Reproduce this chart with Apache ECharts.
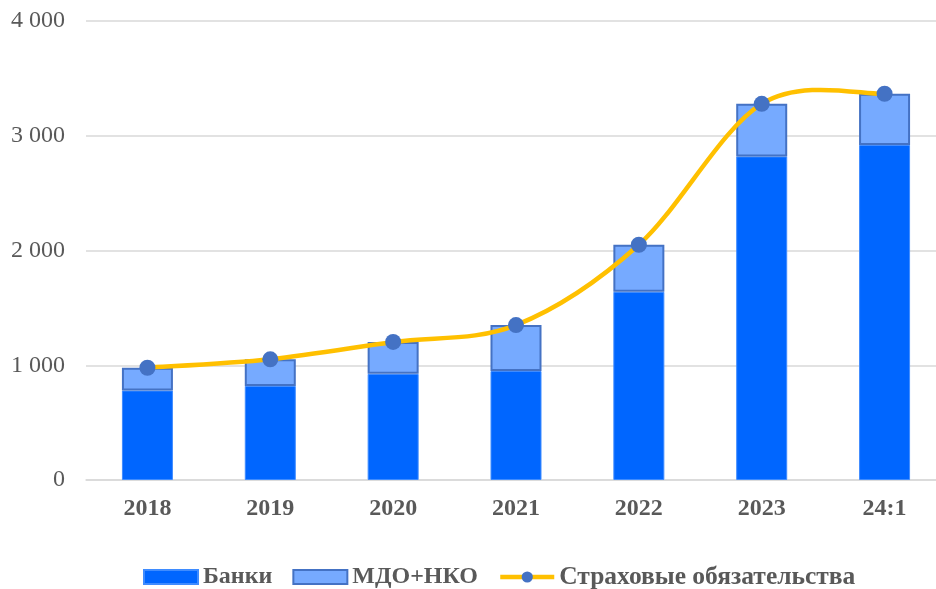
<!DOCTYPE html>
<html><head><meta charset="utf-8">
<script src="https://cdn.jsdelivr.net/npm/echarts@6/dist/echarts.min.js"></script>
<style>html,body{margin:0;padding:0;background:#fff}#c{width:936px;height:589px}</style>
</head><body><div id="c"></div>
<script>
var categories = ['2018', '2019', '2020', '2021', '2022', '2023', '24:1'];
var banks = [780, 820, 925, 950, 1640, 2820, 2920];
var mdoNko = [198, 232, 278, 400, 410, 458, 446];
var insurance = [978, 1052, 1203, 1350, 2050, 3278, 3366];
var yTicks = [0, 1000, 2000, 3000, 4000];

var chart = echarts.init(document.getElementById('c'));
var serif = '"Liberation Serif", "DejaVu Serif", serif';

// Smooth curve (Catmull-Rom style, like the office-chart smoothing) through points placed by the axes
function curveItem(params, api) {
  if (params.dataIndex !== 0) return null;
  var pts = insurance.map(function (v, i) { return api.coord([i, v]); });
  var n = pts.length;
  var d = 'M' + pts[0][0] + ' ' + pts[0][1];
  for (var i = 0; i < n - 1; i++) {
    var p0 = pts[Math.max(i - 1, 0)], p1 = pts[i], p2 = pts[i + 1], p3 = pts[Math.min(i + 2, n - 1)];
    var c1x = p1[0] + (p2[0] - p0[0]) / 6, c1y = p1[1] + (p2[1] - p0[1]) / 6;
    var c2x = p2[0] - (p3[0] - p1[0]) / 6, c2y = p2[1] - (p3[1] - p1[1]) / 6;
    d += ' C' + c1x + ' ' + c1y + ' ' + c2x + ' ' + c2y + ' ' + p2[0] + ' ' + p2[1];
  }
  return { type: 'path', shape: { pathData: d },
    style: { stroke: '#FFC000', lineWidth: 4.5, fill: 'none', lineCap: 'round', lineJoin: 'round' } };
}

chart.setOption({
  animation: false,
  grid: { left: 86, width: 860, top: 21, bottom: 109, outerBoundsMode: 'none', containLabel: false },
  legend: {
    left: 138, top: 559, itemWidth: 54, itemHeight: 14, itemGap: 20,
    textStyle: { fontFamily: serif, fontWeight: 'bold', fontSize: 24, color: '#595959' },
    data: [
      { name: 'Банки', icon: 'rect' },
      { name: 'МДО+НКО', icon: 'rect' },
      { name: 'Страховые обязательства', lineStyle: { color: '#FFC000', width: 4.5, opacity: 1 },
        textStyle: { fontSize: 25.5 } }
    ]
  },
  xAxis: {
    type: 'category', data: categories,
    axisLine: { lineStyle: { color: '#D9D9D9', width: 1.5 } },
    axisTick: { show: false },
    axisLabel: { margin: 17, fontFamily: serif, fontWeight: 'bold', fontSize: 24, color: '#595959' }
  },
  yAxis: {
    type: 'value', min: yTicks[0], max: yTicks[yTicks.length - 1], interval: 1000,
    axisLine: { show: false }, axisTick: { show: false },
    splitLine: { lineStyle: { color: '#D9D9D9', width: 1.5 } },
    axisLabel: {
      margin: 21, fontFamily: serif, fontSize: 24, color: '#595959',
      formatter: function (v) { return String(v).replace(/\B(?=(\d{3})+(?!\d))/g, ' '); }
    }
  },
  series: [
    { name: 'Банки', type: 'bar', stack: 't', barWidth: 51, data: banks,
      itemStyle: { color: '#0066FF', borderColor: '#3F8CFF', borderWidth: 1 } },
    { name: 'МДО+НКО', type: 'bar', stack: 't', barWidth: 51, data: mdoNko,
      itemStyle: { color: '#76AAFF', borderColor: '#4472C4', borderWidth: 2 } },
    { type: 'custom', silent: true, z: 3, renderItem: curveItem,
      data: insurance.map(function (v, i) { return [i, v]; }) },
    { name: 'Страховые обязательства', type: 'line', data: insurance, z: 4,
      symbol: 'circle', symbolSize: 16,
      lineStyle: { color: '#FFC000', width: 4.5, opacity: 0 },
      itemStyle: { color: '#4472C4', borderWidth: 0 } }
  ]
});
</script></body></html>
